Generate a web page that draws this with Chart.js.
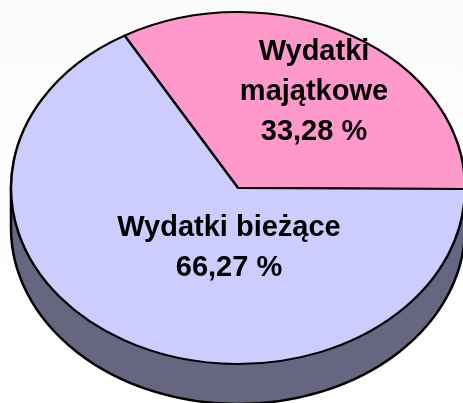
<!DOCTYPE html>
<html><head><meta charset="utf-8">
<script src="https://cdn.jsdelivr.net/npm/chart.js@4"></script>
<style>html,body{margin:0;padding:0;overflow:hidden}body{background:linear-gradient(#fbfbfb 0,#fdfdfd 200px,#fff 320px);width:463px;height:403px}#w{position:relative;width:463px;height:403px}</style>
</head><body><div id="w"><canvas id="c" width="463" height="403"></canvas></div>
<script>
const categories = ["Wydatki majątkowe", "Wydatki bieżące"];
const seriesValues = [33.28, 66.27];
const sliceColors = ["#FF99CC", "#CCCCFF"];
const labelLines = [["Wydatki", "majątkowe", "33,28 %"], ["Wydatki bieżące", "66,27 %"]];

const SQUASH = 176 / 227, DEPTH = 40;
const LABEL_POS = [{x: 314, ys: [52, 92, 132]}, {x: 229, ys: [228, 268]}];

const pie3d = {
  id: 'pie3d',
  beforeDatasetsDraw(chart) {
    const ctx = chart.ctx, a = chart.getDatasetMeta(0).data[0];
    const cx = a.x, cy = a.y, R = a.outerRadius;
    ctx.save();
    ctx.beginPath();
    ctx.moveTo(cx - R, cy);
    ctx.lineTo(cx - R, cy + DEPTH);
    ctx.ellipse(cx, cy + DEPTH, R, R * SQUASH, 0, Math.PI, 0, true);
    ctx.lineTo(cx + R, cy);
    ctx.closePath();
    ctx.fillStyle = '#666680';
    ctx.fill();
    ctx.lineWidth = 2.5;
    ctx.strokeStyle = '#000';
    ctx.stroke();
    ctx.restore();
    ctx.save();
    ctx.translate(0, cy);
    ctx.scale(1, SQUASH);
    ctx.translate(0, -cy);
  },
  afterDatasetsDraw(chart) {
    const ctx = chart.ctx;
    ctx.restore();
    ctx.save();
    ctx.font = 'bold 29px "Liberation Sans", Arial, sans-serif';
    ctx.fillStyle = '#000';
    ctx.textAlign = 'center';
    ctx.textBaseline = 'middle';
    labelLines.forEach((lines, i) => lines.forEach((t, j) =>
      ctx.fillText(t, LABEL_POS[i].x, LABEL_POS[i].ys[j])));
    ctx.restore();
  }
};

new Chart(document.getElementById('c'), {
  type: 'pie',
  data: {
    labels: categories,
    datasets: [{
      data: seriesValues,
      backgroundColor: sliceColors,
      borderColor: '#000',
      borderWidth: 2.5,
      clip: false
    }]
  },
  options: {
    responsive: false,
    animation: false,
    rotation: -30,
    radius: 227,
    layout: {padding: {left: 13, right: 0, top: 0, bottom: 27}},
    plugins: {legend: {display: false}, tooltip: {enabled: false}}
  },
  plugins: [pie3d]
});
</script></body></html>
